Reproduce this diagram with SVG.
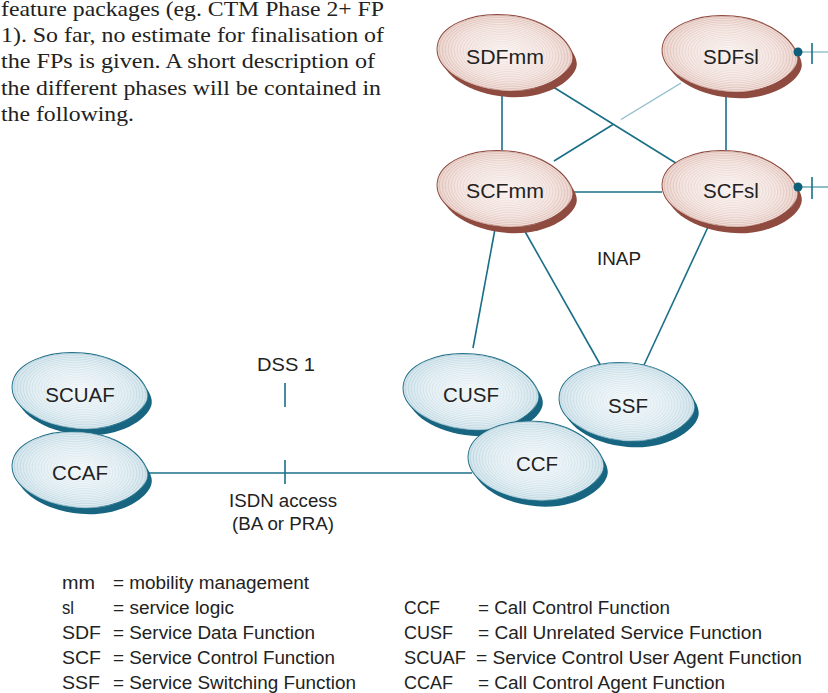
<svg xmlns="http://www.w3.org/2000/svg" xmlns:xlink="http://www.w3.org/1999/xlink" width="828" height="693" viewBox="0 0 828 693">
  <style>
    .para { font-family: "Liberation Serif", "Times New Roman", serif; font-size: 22px; fill: #222; }
    .lbl { font-family: "Liberation Sans", Arial, sans-serif; font-size: 20.5px; fill: #222; text-anchor: middle; }
    .note { font-family: "Liberation Sans", Arial, sans-serif; font-size: 17.5px; fill: #222; }
    .note-c { font-family: "Liberation Sans", Arial, sans-serif; font-size: 17.5px; fill: #222; text-anchor: middle; }
    .link { stroke: #1a6f87; stroke-width: 1.6; fill: none; }
    .link-faint { stroke: #8fbccb; stroke-width: 1.4; fill: none; }
    .pink-shadow { fill: #8f4b40; }
    .pink-body { fill: url(#pinkBase); stroke: #8b4336; stroke-width: 1.2; }
    .blue-shadow { fill: #176580; }
    .blue-body { fill: url(#blueBase); stroke: #1a6b85; stroke-width: 1.2; }
    .rings { fill: url(#rings); }
    .dot { fill: #0f5f78; }
  </style>
  <defs>
    <!-- egg-shaped functional entity outline, centred on the origin -->
    <path id="egg" d="M -68,0 C -68,-21 -37.6,-38 0,-38 C 40,-38 68,-15 68,0 C 68,15 40,38 0,38 C -37.6,38 -68,21 -68,0 Z"/>
    <radialGradient id="pinkBase" cx="0.5" cy="0.5" r="0.5">
      <stop offset="0" stop-color="#f7eeeb"/>
      <stop offset="0.7" stop-color="#ecd6d0"/>
      <stop offset="1" stop-color="#dfbdb4"/>
    </radialGradient>
    <radialGradient id="blueBase" cx="0.5" cy="0.5" r="0.5">
      <stop offset="0" stop-color="#eef5f8"/>
      <stop offset="0.7" stop-color="#d3e5ec"/>
      <stop offset="1" stop-color="#bcd6e1"/>
    </radialGradient>
    <!-- fine concentric rings laid over the body colour -->
    <radialGradient id="rings" cx="0.5" cy="0.5" r="0.022" spreadMethod="repeat">
      <stop offset="0" stop-color="#ffffff" stop-opacity="0"/>
      <stop offset="0.5" stop-color="#ffffff" stop-opacity="0.5"/>
      <stop offset="1" stop-color="#ffffff" stop-opacity="0"/>
    </radialGradient>
  </defs>

  <rect width="828" height="693" fill="#ffffff"/>

  <!-- running text paragraph -->
  <g id="paragraph">
    <text class="para" x="1" y="16" textLength="383" lengthAdjust="spacingAndGlyphs">feature packages (eg. CTM Phase 2+ FP</text>
    <text class="para" x="1" y="42" textLength="383" lengthAdjust="spacingAndGlyphs">1). So far, no estimate for finalisation of</text>
    <text class="para" x="1" y="68" textLength="374" lengthAdjust="spacingAndGlyphs">the FPs is given. A short description of</text>
    <text class="para" x="1" y="94.5" textLength="380" lengthAdjust="spacingAndGlyphs">the different phases will be contained in</text>
    <text class="para" x="1" y="121" textLength="133" lengthAdjust="spacingAndGlyphs">the following.</text>
  </g>

  <!-- connectors -->
  <g id="connectors">
    <line class="link" x1="502" y1="95" x2="502" y2="150"/>
    <line class="link" x1="726" y1="96" x2="726" y2="150"/>
    <line class="link" x1="550" y1="85" x2="679" y2="165"/>
    <line class="link" x1="554" y1="161" x2="613" y2="124.5"/>
    <line class="link-faint" x1="621" y1="119.5" x2="681" y2="83"/>
    <line class="link" x1="573" y1="192" x2="662" y2="192"/>
    <line class="link" x1="495" y1="229" x2="473" y2="348"/>
    <line class="link" x1="523" y1="228" x2="601" y2="366"/>
    <line class="link" x1="708" y1="227" x2="644" y2="365"/>
    <!-- ISDN access -->
    <line class="link" x1="148" y1="473" x2="472" y2="473"/>
    <line class="link" x1="285" y1="460" x2="285" y2="484"/>
    <!-- DSS 1 reference point -->
    <line class="link" x1="285" y1="383" x2="285" y2="407"/>
    <!-- links leaving to the right -->
    <line class="link-faint" x1="798" y1="52" x2="828" y2="52"/>
    <line class="link" x1="812" y1="43" x2="812" y2="64"/>
    <line class="link-faint" x1="798" y1="187" x2="828" y2="187" style="stroke:#5f9fb2"/>
    <line class="link" x1="812" y1="177" x2="812" y2="199"/>
  </g>

  <!-- service control level -->
  <g id="node-sdfmm" transform="translate(505,53)">
    <use xlink:href="#egg" class="pink-shadow" transform="translate(4,6) rotate(5)"/>
    <use xlink:href="#egg" class="pink-body" transform="rotate(5)"/>
    <use xlink:href="#egg" class="rings" transform="rotate(5)"/>
    <text class="lbl" x="0" y="11" textLength="78" lengthAdjust="spacingAndGlyphs">SDFmm</text>
  </g>
  <g id="node-sdfsl" transform="translate(730,54)">
    <use xlink:href="#egg" class="pink-shadow" transform="translate(4,6) rotate(5)"/>
    <use xlink:href="#egg" class="pink-body" transform="rotate(5)"/>
    <use xlink:href="#egg" class="rings" transform="rotate(5)"/>
    <text class="lbl" x="1" y="10">SDFsl</text>
    <circle class="dot" cx="68" cy="-2" r="4.5"/>
  </g>
  <g id="node-scfmm" transform="translate(505,189)">
    <use xlink:href="#egg" class="pink-shadow" transform="translate(4,6) rotate(5)"/>
    <use xlink:href="#egg" class="pink-body" transform="rotate(5)"/>
    <use xlink:href="#egg" class="rings" transform="rotate(5)"/>
    <text class="lbl" x="0" y="9" textLength="78" lengthAdjust="spacingAndGlyphs">SCFmm</text>
  </g>
  <g id="node-scfsl" transform="translate(730,189)">
    <use xlink:href="#egg" class="pink-shadow" transform="translate(4,6) rotate(5)"/>
    <use xlink:href="#egg" class="pink-body" transform="rotate(5)"/>
    <use xlink:href="#egg" class="rings" transform="rotate(5)"/>
    <text class="lbl" x="1" y="9">SCFsl</text>
    <circle class="dot" cx="68" cy="-2" r="4.5"/>
  </g>

  <!-- user side -->
  <g id="node-scuaf" transform="translate(80,391)">
    <use xlink:href="#egg" class="blue-shadow" transform="translate(4,6) rotate(5)"/>
    <use xlink:href="#egg" class="blue-body" transform="rotate(5)"/>
    <use xlink:href="#egg" class="rings" transform="rotate(5)"/>
    <text class="lbl" x="0" y="11">SCUAF</text>
  </g>
  <g id="node-ccaf" transform="translate(80,470)">
    <use xlink:href="#egg" class="blue-shadow" transform="translate(4,6) rotate(5)"/>
    <use xlink:href="#egg" class="blue-body" transform="rotate(5)"/>
    <use xlink:href="#egg" class="rings" transform="rotate(5)"/>
    <text class="lbl" x="0" y="10">CCAF</text>
  </g>

  <!-- network side -->
  <g id="node-cusf" transform="translate(471,392)">
    <use xlink:href="#egg" class="blue-shadow" transform="translate(4,6) rotate(5)"/>
    <use xlink:href="#egg" class="blue-body" transform="rotate(5)"/>
    <use xlink:href="#egg" class="rings" transform="rotate(5)"/>
    <text class="lbl" x="0" y="10">CUSF</text>
  </g>
  <g id="node-ssf" transform="translate(627,402)">
    <use xlink:href="#egg" class="blue-shadow" transform="translate(4,6) rotate(5) scale(1,1.03)"/>
    <use xlink:href="#egg" class="blue-body" transform="rotate(5) scale(1,1.03)"/>
    <use xlink:href="#egg" class="rings" transform="rotate(5) scale(1,1.03)"/>
    <text class="lbl" x="1" y="11">SSF</text>
  </g>
  <g id="node-ccf" transform="translate(536,461)">
    <use xlink:href="#egg" class="blue-shadow" transform="translate(4,6) rotate(5) scale(1,1.04)"/>
    <use xlink:href="#egg" class="blue-body" transform="rotate(5) scale(1,1.04)"/>
    <use xlink:href="#egg" class="rings" transform="rotate(5) scale(1,1.04)"/>
    <text class="lbl" x="1" y="10">CCF</text>
  </g>

  <!-- interface labels -->
  <g id="labels">
    <text class="note-c" x="619" y="265" textLength="44" lengthAdjust="spacingAndGlyphs">INAP</text>
    <text class="note-c" x="286" y="371" textLength="58" lengthAdjust="spacingAndGlyphs">DSS 1</text>
    <text class="note-c" x="283" y="507" textLength="108" lengthAdjust="spacingAndGlyphs">ISDN access</text>
    <text class="note-c" x="283" y="530" textLength="102" lengthAdjust="spacingAndGlyphs">(BA or PRA)</text>
  </g>

  <!-- abbreviations -->
  <g id="legend">
    <text class="note" x="62" y="589" textLength="33" lengthAdjust="spacingAndGlyphs">mm</text>
    <text class="note" x="113" y="589" textLength="196" lengthAdjust="spacingAndGlyphs">= mobility management</text>
    <text class="note" x="62" y="614" textLength="12" lengthAdjust="spacingAndGlyphs">sl</text>
    <text class="note" x="113" y="614" textLength="121" lengthAdjust="spacingAndGlyphs">= service logic</text>
    <text class="note" x="62" y="639" textLength="39" lengthAdjust="spacingAndGlyphs">SDF</text>
    <text class="note" x="113" y="639" textLength="202" lengthAdjust="spacingAndGlyphs">= Service Data Function</text>
    <text class="note" x="62" y="664" textLength="39" lengthAdjust="spacingAndGlyphs">SCF</text>
    <text class="note" x="113" y="664" textLength="222" lengthAdjust="spacingAndGlyphs">= Service Control Function</text>
    <text class="note" x="62" y="689" textLength="38" lengthAdjust="spacingAndGlyphs">SSF</text>
    <text class="note" x="113" y="689" textLength="243" lengthAdjust="spacingAndGlyphs">= Service Switching Function</text>

    <text class="note" x="404" y="614" textLength="36" lengthAdjust="spacingAndGlyphs">CCF</text>
    <text class="note" x="478" y="614" textLength="192" lengthAdjust="spacingAndGlyphs">= Call Control Function</text>
    <text class="note" x="404" y="639" textLength="49" lengthAdjust="spacingAndGlyphs">CUSF</text>
    <text class="note" x="478" y="639" textLength="284" lengthAdjust="spacingAndGlyphs">= Call Unrelated Service Function</text>
    <text class="note" x="404" y="664" textLength="62" lengthAdjust="spacingAndGlyphs">SCUAF</text>
    <text class="note" x="476" y="664" textLength="326" lengthAdjust="spacingAndGlyphs">= Service Control User Agent Function</text>
    <text class="note" x="404" y="689" textLength="49" lengthAdjust="spacingAndGlyphs">CCAF</text>
    <text class="note" x="478" y="689" textLength="247" lengthAdjust="spacingAndGlyphs">= Call Control Agent Function</text>
  </g>
</svg>
